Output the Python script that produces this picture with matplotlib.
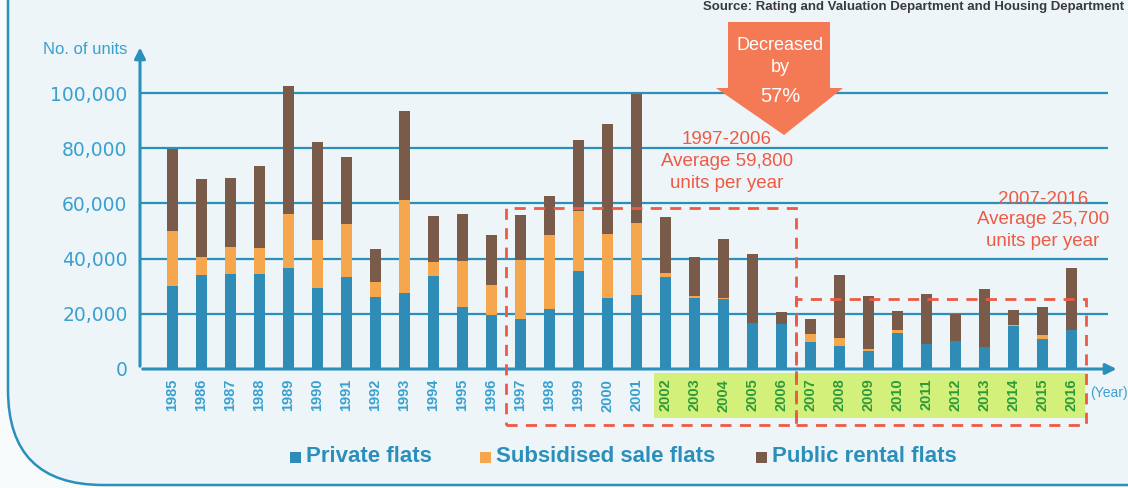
import numpy as np
import matplotlib.pyplot as plt
from matplotlib.patches import Rectangle, FancyBboxPatch, Polygon
from matplotlib.transforms import IdentityTransform

# completions by year (units)
years = list(range(1985, 2017))
private = [30200, 33900, 34300, 34400, 36500, 29300, 33300, 26100, 27500, 33800,
           22300, 19600, 18000, 21900, 35600, 25700, 26900, 33200, 25800, 25400,
           16800, 16300, 9700, 8500, 6600, 13000, 9200, 10000, 8100, 15600,
           10800, 14200]
subsidised = [19900, 6800, 10000, 9300, 19800, 17600, 19200, 5600, 33800, 5000,
              17000, 10900, 21500, 26700, 21600, 23300, 26100, 1700, 500, 300,
              0, 0, 3000, 2700, 700, 1200, 0, 0, 0, 300,
              1600, 0]
public = [29500, 28100, 24900, 29900, 46200, 35200, 24400, 11700, 32300, 16800,
          16900, 18200, 16400, 14000, 25800, 39700, 46600, 20300, 14200, 21300,
          24800, 4200, 5300, 22800, 19200, 6700, 18000, 10100, 20900, 5400,
          10000, 22400]
yticks = [0, 20000, 40000, 60000, 80000, 100000]
series_names = ['Private flats', 'Subsidised sale flats', 'Public rental flats']

BLUE = '#2e8cb6'
ORANGE = '#f6a64c'
BROWN = '#7a5a49'
AXBLUE = '#2b8fbb'
TXTBLUE = '#3aa0cf'
RED = '#ee5a44'
GREEN = '#2f9a3a'

W, H = 1128, 488
fig = plt.figure(figsize=(W / 100, H / 100), dpi=100)
fig.patch.set_facecolor('#f7fbfc')

def px(x, y):
    # pixel position from top-left -> display coords
    return (x, H - y)

# rounded panel behind the chart
panel = FancyBboxPatch(px(8, 485), 1300, 700, boxstyle='round,pad=0,rounding_size=95',
                       transform=IdentityTransform(), facecolor='#edf5f8',
                       edgecolor=AXBLUE, lw=1.8, zorder=0)
fig.add_artist(panel)

ax = fig.add_axes([140 / W, (H - 369) / H, (1108 - 140) / W, (369 - 51.6) / H])
ax.set_facecolor('none')

x = np.arange(len(years))
private = np.array(private)
subsidised = np.array(subsidised)
public = np.array(public)
bw = 0.41
ax.bar(x, private, bw, color=BLUE, zorder=3, label=series_names[0])
ax.bar(x, subsidised, bw, bottom=private, color=ORANGE, zorder=3, label=series_names[1])
ax.bar(x, public, bw, bottom=private + subsidised, color=BROWN, zorder=3,
       label=series_names[2])

ax.set_xlim(-1.12, 32.26)
ax.set_ylim(0, 115000)
for s in ax.spines.values():
    s.set_visible(False)

# horizontal gridlines
for v in yticks[1:]:
    ax.axhline(v, color=AXBLUE, lw=1.6, zorder=1)

ax.set_yticks(yticks)
ax.set_yticklabels([f'{v:,}' for v in yticks], fontsize=13.5, color=TXTBLUE,
                   family='DejaVu Sans')
ax.tick_params(axis='y', length=0, pad=9)

ax.set_xticks(x)
ax.set_xticklabels([str(y) for y in years], rotation=90, fontsize=10.5,
                   family='Liberation Sans', fontweight='bold')
for lab, yr in zip(ax.get_xticklabels(), years):
    lab.set_color(GREEN if yr >= 2002 else TXTBLUE)
ax.tick_params(axis='x', length=0, pad=7)

# axes with arrow heads
ax.annotate('', xy=(32.65, 0), xytext=(-1.12, 0), annotation_clip=False,
            arrowprops=dict(arrowstyle='-|>', color=AXBLUE, lw=2.2, mutation_scale=16),
            zorder=4)
ax.annotate('', xy=(-1.12, 117500), xytext=(-1.12, 0), annotation_clip=False,
            arrowprops=dict(arrowstyle='-|>', color=AXBLUE, lw=2.2, mutation_scale=16),
            zorder=4)

# green highlight behind 2002-2016 labels
ax.add_patch(Rectangle((16.6, -17800), 14.85, 16200, facecolor='#d3f07a',
                       edgecolor='none', clip_on=False, zorder=0))

# dashed period boxes
for x0, x1, top in [(11.5, 21.5, 58300), (21.5, 31.5, 25400)]:
    ax.add_patch(Rectangle((x0, -20300), x1 - x0, top + 20300, fill=False,
                           edgecolor=RED, lw=2, linestyle=(0, (4, 3)),
                           clip_on=False, zorder=5))

fig.text(127 / W, 1 - 50 / H, 'No. of units', ha='right',
         va='center', fontsize=12, color=TXTBLUE, family='Liberation Sans')
fig.text(1090 / W, 1 - 393 / H, '(Year)', ha='left', va='center', fontsize=10,
         color=TXTBLUE, family='Liberation Sans')

# down arrow
arrow = Polygon([px(728, 22), px(830, 22), px(830, 88), px(843, 88), px(784, 135),
                 px(716, 88), px(728, 88)], closed=True, transform=IdentityTransform(),
                facecolor='#f47a56', edgecolor='none', zorder=6)
fig.add_artist(arrow)
for txt, yy, fs in [('Decreased', 45, 13), ('by', 68, 13), ('57%', 97, 14.5)]:
    fig.text(780 / W, 1 - yy / H, txt, ha='center', va='center', color='white',
             fontsize=fs, family='Liberation Sans', zorder=7)

# period averages
for cx, lines in [(727, [('1997-2006', 140), ('Average 59,800', 162), ('units per year', 183)]),
                  (1043, [('2007-2016', 199), ('Average 25,700', 220), ('units per year', 241)])]:
    for txt, yy in lines:
        fig.text(cx / W, 1 - yy / H, txt, ha='center', va='center', color=RED,
                 fontsize=13.5, family='Liberation Sans')

fig.text(1124 / W, 1 - 7 / H, 'Source: Rating and Valuation Department and Housing Department',
         ha='right', va='center', fontsize=9.5, fontweight='bold', color='#3a3a3a',
         family='Liberation Sans')

# legend
for sx, color, name in [(290, BLUE, series_names[0]), (480, ORANGE, series_names[1]),
                        (756, BROWN, series_names[2])]:
    fig.add_artist(Rectangle(px(sx, 463), 11, 11, transform=IdentityTransform(),
                             facecolor=color, edgecolor='none'))
    fig.text((sx + 16) / W, 1 - 457 / H, name, ha='left', va='center', fontsize=16,
             fontweight='bold', color=AXBLUE, family='Liberation Sans')

fig.savefig('out.png', dpi=100, facecolor=fig.get_facecolor())
